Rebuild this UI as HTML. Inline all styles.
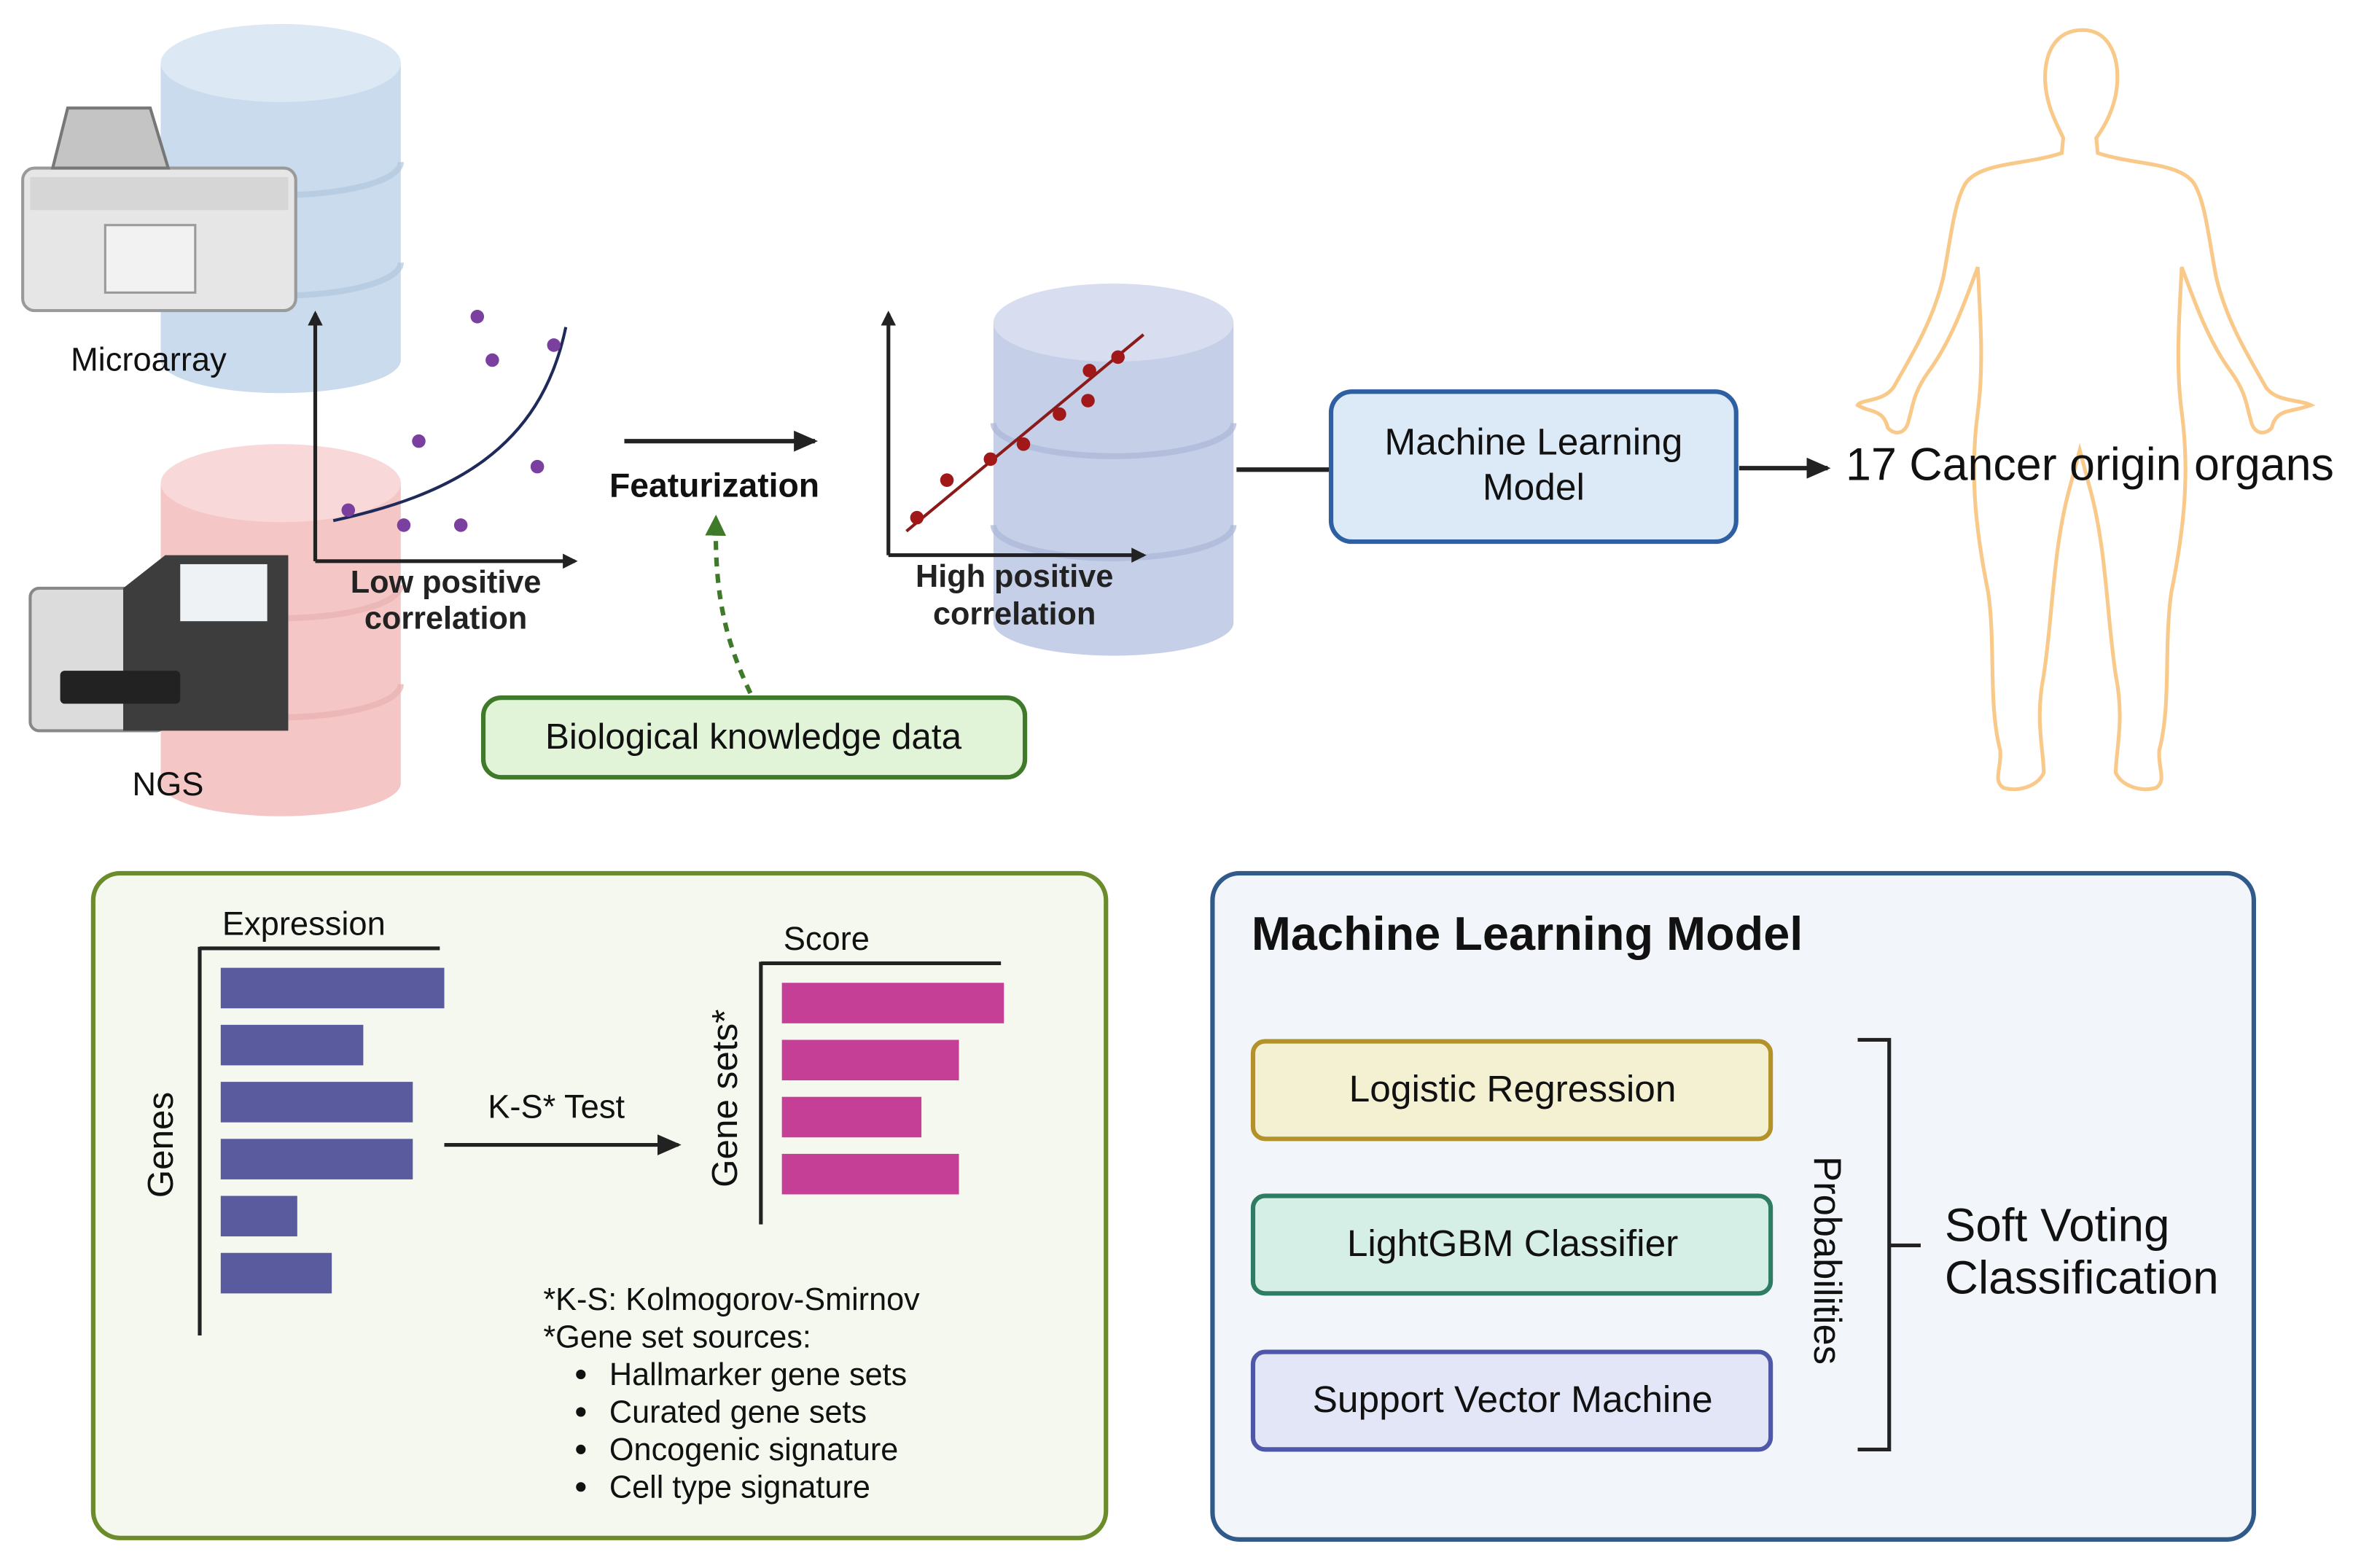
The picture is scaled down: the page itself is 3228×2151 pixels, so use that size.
<!DOCTYPE html>
<html><head><meta charset="utf-8"><style>html,body{margin:0;padding:0;background:#fff}svg{display:block}text{font-family:"Liberation Sans",Arial,sans-serif}</style></head><body>
<svg width="3228" height="2151" viewBox="0 0 1568 1045" xmlns="http://www.w3.org/2000/svg">
<defs>
<marker id="ar" markerWidth="10" markerHeight="10" refX="8" refY="5" orient="auto" markerUnits="userSpaceOnUse"><path d="M0,0 L10,5 L0,10 z" fill="#222"/></marker>
<marker id="ag" markerWidth="14" markerHeight="14" refX="10" refY="7" orient="auto" markerUnits="userSpaceOnUse"><path d="M0,0 L14,7 L0,14 z" fill="#3f7a2a"/></marker>
<marker id="ab" markerWidth="16" markerHeight="14" refX="14" refY="7" orient="auto" markerUnits="userSpaceOnUse"><path d="M0,0 L16,7 L0,14 z" fill="#222"/></marker>
</defs>
<rect width="1568" height="1045" fill="#fff"/>
<g>
<path d="M107,42 V240 A80,22 0 0 0 267,240 V42 Z" fill="#c9dbec"/>
<path d="M107,108 A80,22 0 0 0 267,108" fill="none" stroke="#b2c8de" stroke-width="4" opacity="0.7"/>
<path d="M107,175 A80,22 0 0 0 267,175" fill="none" stroke="#b2c8de" stroke-width="4" opacity="0.7"/>
<ellipse cx="187" cy="42" rx="80" ry="26" fill="#dce8f3"/>
</g>
<g>
<path d="M107,322 V522 A80,22 0 0 0 267,522 V322 Z" fill="#f4c6c6"/>
<path d="M107,390 A80,22 0 0 0 267,390" fill="none" stroke="#e7b1b1" stroke-width="4" opacity="0.7"/>
<path d="M107,456 A80,22 0 0 0 267,456" fill="none" stroke="#e7b1b1" stroke-width="4" opacity="0.7"/>
<ellipse cx="187" cy="322" rx="80" ry="26" fill="#f8d8d8"/>
</g>
<g>
<rect x="15" y="112" width="182" height="95" rx="8" fill="#e6e6e6" stroke="#9a9a9a" stroke-width="2"/>
<path d="M35,112 L45,72 L100,72 L112,112 Z" fill="#c4c4c4" stroke="#777" stroke-width="2"/>
<rect x="20" y="118" width="172" height="22" fill="#d6d6d6"/>
<rect x="70" y="150" width="60" height="45" fill="#f2f2f2" stroke="#9a9a9a" stroke-width="1.5"/>
</g>
<text x="47" y="247" font-size="22" fill="#111">Microarray</text>
<g>
<rect x="20" y="392" width="90" height="95" rx="6" fill="#dcdcdc" stroke="#888" stroke-width="2"/>
<path d="M82,392 L110,370 L192,370 L192,487 L82,487 Z" fill="#3d3d3d"/>
<rect x="120" y="376" width="58" height="38" fill="#eef2f4"/>
<rect x="40" y="447" width="80" height="22" rx="3" fill="#222"/>
</g>
<text x="88" y="530" font-size="22" fill="#111">NGS</text>
<line x1="210" y1="374" x2="210" y2="209" stroke="#222" stroke-width="2.5" marker-end="url(#ar)"/>
<line x1="210" y1="374" x2="383" y2="374" stroke="#222" stroke-width="2.5" marker-end="url(#ar)"/>
<path d="M222,347 C300,330 360,300 377,218" fill="none" stroke="#1e2a5a" stroke-width="2"/>
<g fill="#7b3fa0"><circle cx="318" cy="211" r="4.5"/><circle cx="328" cy="240" r="4.5"/><circle cx="369" cy="230" r="4.5"/><circle cx="279" cy="294" r="4.5"/><circle cx="358" cy="311" r="4.5"/><circle cx="232" cy="340" r="4.5"/><circle cx="269" cy="350" r="4.5"/><circle cx="307" cy="350" r="4.5"/></g>
<text x="297" y="395" font-size="21" font-weight="bold" text-anchor="middle" fill="#222">Low positive</text>
<text x="297" y="419" font-size="21" font-weight="bold" text-anchor="middle" fill="#222">correlation</text>
<line x1="416" y1="294" x2="543" y2="294" stroke="#222" stroke-width="3" marker-end="url(#ab)"/>
<text x="476" y="331" font-size="22.5" font-weight="bold" text-anchor="middle" fill="#111">Featurization</text>
<path d="M500,462 C485,430 476,400 477,347" fill="none" stroke="#3f7a2a" stroke-width="3" stroke-dasharray="6,5" marker-end="url(#ag)"/>
<rect x="322" y="465" width="361" height="53" rx="12" fill="#e2f4d8" stroke="#3f7a2a" stroke-width="3"/>
<text x="502" y="499" font-size="24" text-anchor="middle" fill="#111">Biological knowledge data</text>
<g>
<path d="M662,215 V415 A80,22 0 0 0 822,415 V215 Z" fill="#c5cfe8"/>
<path d="M662,282 A80,22 0 0 0 822,282" fill="none" stroke="#aab6d6" stroke-width="4" opacity="0.7"/>
<path d="M662,350 A80,22 0 0 0 822,350" fill="none" stroke="#aab6d6" stroke-width="4" opacity="0.7"/>
<ellipse cx="742" cy="215" rx="80" ry="26" fill="#d8def0"/>
</g>
<line x1="592" y1="370" x2="592" y2="209" stroke="#222" stroke-width="2.5" marker-end="url(#ar)"/>
<line x1="592" y1="370" x2="762" y2="370" stroke="#222" stroke-width="2.5" marker-end="url(#ar)"/>
<line x1="604" y1="354" x2="762" y2="223" stroke="#8b1a1a" stroke-width="2"/>
<g fill="#a01818"><circle cx="611" cy="345" r="4.5"/><circle cx="631" cy="320" r="4.5"/><circle cx="660" cy="306" r="4.5"/><circle cx="682" cy="296" r="4.5"/><circle cx="706" cy="276" r="4.5"/><circle cx="725" cy="267" r="4.5"/><circle cx="726" cy="247" r="4.5"/><circle cx="745" cy="238" r="4.5"/></g>
<text x="676" y="391" font-size="21" font-weight="bold" text-anchor="middle" fill="#222">High positive</text>
<text x="676" y="416" font-size="21" font-weight="bold" text-anchor="middle" fill="#222">correlation</text>
<line x1="824" y1="313" x2="887" y2="313" stroke="#222" stroke-width="3"/>
<rect x="887" y="261" width="270" height="100" rx="14" fill="#dce9f7" stroke="#2f5fa3" stroke-width="3"/>
<text x="1022" y="303" font-size="25" text-anchor="middle" fill="#111">Machine Learning</text>
<text x="1022" y="333" font-size="25" text-anchor="middle" fill="#111">Model</text>
<line x1="1159" y1="312" x2="1218" y2="312" stroke="#222" stroke-width="3" marker-end="url(#ab)"/>
<path d="M1388,20 C1370,20 1362,35 1363,55 C1364,72 1372,85 1375,92 L1374,102 C1350,110 1320,108 1310,122 C1302,135 1300,160 1295,185 C1288,215 1272,240 1262,258 C1255,268 1240,266 1238,270 C1245,275 1255,272 1258,285 C1262,290 1270,290 1272,280 C1275,270 1275,262 1285,248 C1300,228 1310,200 1318,178 C1320,215 1322,245 1318,275 C1312,320 1318,360 1325,395 C1330,430 1325,470 1333,500 C1334,512 1328,520 1335,525 C1345,528 1358,524 1362,515 C1362,500 1356,480 1362,450 C1368,410 1368,370 1378,330 L1386,300 L1394,330 C1404,370 1404,410 1410,450 C1416,480 1410,500 1410,515 C1414,524 1427,528 1437,525 C1444,520 1438,512 1439,500 C1447,470 1442,430 1447,395 C1454,360 1460,320 1454,275 C1450,245 1452,215 1454,178 C1462,200 1472,228 1487,248 C1497,262 1497,270 1500,280 C1502,290 1510,290 1514,285 C1517,272 1527,275 1540,270 C1532,266 1517,268 1510,258 C1500,240 1484,215 1477,185 C1472,160 1470,135 1462,122 C1452,108 1422,110 1398,102 L1397,92 C1402,85 1410,72 1411,55 C1412,35 1404,20 1388,20 Z" fill="none" stroke="#f9c98a" stroke-width="2.5"/>
<text x="1230" y="320" font-size="30.5" fill="#111">17 Cancer origin organs</text>
<rect x="62" y="582" width="675" height="443" rx="18" fill="#f5f8ee" stroke="#6b8c2a" stroke-width="3"/>
<line x1="133" y1="631" x2="133" y2="890" stroke="#222" stroke-width="2.5"/>
<line x1="133" y1="632" x2="293" y2="632" stroke="#222" stroke-width="2.5"/>
<text x="148" y="623" font-size="22" fill="#111">Expression</text>
<g fill="#5a5a9e"><rect x="147" y="645" width="149" height="27"/><rect x="147" y="683" width="95" height="27"/><rect x="147" y="721" width="128" height="27"/><rect x="147" y="759" width="128" height="27"/><rect x="147" y="797" width="51" height="27"/><rect x="147" y="835" width="74" height="27"/></g>
<text transform="translate(115,763) rotate(-90)" font-size="24" text-anchor="middle" fill="#111">Genes</text>
<text x="325" y="745" font-size="22" fill="#111">K-S* Test</text>
<line x1="296" y1="763" x2="452" y2="763" stroke="#222" stroke-width="2.5" marker-end="url(#ab)"/>
<line x1="507" y1="641" x2="507" y2="816" stroke="#222" stroke-width="2.5"/>
<line x1="507" y1="642" x2="667" y2="642" stroke="#222" stroke-width="2.5"/>
<text x="522" y="633" font-size="22" fill="#111">Score</text>
<g fill="#c63f96"><rect x="521" y="655" width="148" height="27"/><rect x="521" y="693" width="118" height="27"/><rect x="521" y="731" width="93" height="27"/><rect x="521" y="769" width="118" height="27"/></g>
<text transform="translate(491,732) rotate(-90)" font-size="24" text-anchor="middle" fill="#111">Gene sets*</text>
<g font-size="21" fill="#111"><text x="362" y="873">*K-S: Kolmogorov-Smirnov</text><text x="362" y="898">*Gene set sources:</text>
<text x="406" y="923">Hallmarker gene sets</text><text x="406" y="948">Curated gene sets</text><text x="406" y="973">Oncogenic signature</text><text x="406" y="998">Cell type signature</text></g>
<g fill="#111"><circle cx="387" cy="916" r="3.2"/><circle cx="387" cy="941" r="3.2"/><circle cx="387" cy="966" r="3.2"/><circle cx="387" cy="991" r="3.2"/></g>
<rect x="808" y="582" width="694" height="444" rx="18" fill="#f2f6fb" stroke="#2f5a8a" stroke-width="3"/>
<text x="834" y="633" font-size="31.5" font-weight="bold" fill="#111">Machine Learning Model</text>
<rect x="835" y="694" width="345" height="65" rx="8" fill="#f4f1d3" stroke="#b3922a" stroke-width="3"/>
<text x="1008" y="734" font-size="25" text-anchor="middle" fill="#111">Logistic Regression</text>
<rect x="835" y="797" width="345" height="65" rx="8" fill="#d5eee6" stroke="#2e7d62" stroke-width="3"/>
<text x="1008" y="837" font-size="25" text-anchor="middle" fill="#111">LightGBM Classifier</text>
<rect x="835" y="901" width="345" height="65" rx="8" fill="#e3e6f7" stroke="#4f57a8" stroke-width="3"/>
<text x="1008" y="941" font-size="25" text-anchor="middle" fill="#111">Support Vector Machine</text>
<text transform="translate(1209,840) rotate(90)" font-size="25.5" text-anchor="middle" fill="#111">Probabilities</text>
<path d="M1238,693 H1259 V966 H1238 M1259,830 H1280" fill="none" stroke="#222" stroke-width="2.5"/>
<text x="1296" y="827" font-size="31" fill="#111">Soft Voting</text>
<text x="1296" y="862" font-size="31" fill="#111">Classification</text>
</svg>
</body></html>
